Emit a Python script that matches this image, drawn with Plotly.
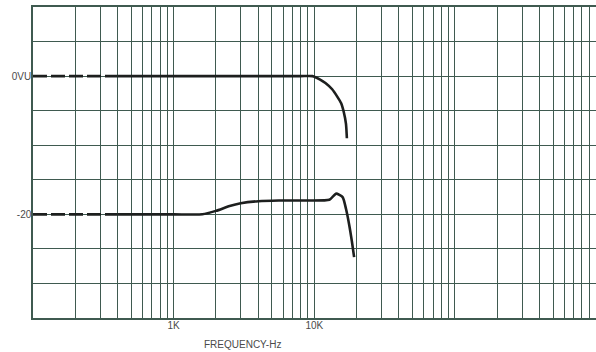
import plotly.graph_objects as go

# ---- data ----
top_freq_hz = [100, 200, 400, 1000, 3000, 8000, 9700, 11000, 12000, 13400, 14600, 15500, 16200, 16800, 17050]
top_level_db = [0, 0, 0, 0, 0, 0, 0, -0.5, -1.0, -1.9, -3.0, -3.9, -5.2, -6.9, -9.0]

low_freq_hz = [100, 200, 400, 1000, 1600, 2000, 2500, 3000, 4000, 5600, 8000, 12800, 13600, 14300, 15900, 16800, 17700, 18500, 19200]
low_level_db = [-20, -20, -20, -20, -20, -19.5, -18.8, -18.4, -18.1, -18.0, -18.0, -17.9, -17.4, -17.0, -17.5, -19.2, -21.5, -23.9, -26.2]

dashed_points = 3  # first points (100-400 Hz) drawn dashed in the original

x_grid_hz = [m * 10 ** e for e in range(2, 6) for m in range(1, 10)] + [1000000]
x_tick_labels = {1000: "1K", 10000: "10K"}
y_grid_db = list(range(-35, 11, 5))
y_tick_labels = {0: "0VU", -20: "-20"}

GRID = "#3f5a50"
INK = "#1d1f1e"
TXT = "#4a4a4a"
FONT = "Liberation Sans, Arial, sans-serif"

fig = go.Figure()
for fx, fy in [(top_freq_hz, top_level_db), (low_freq_hz, low_level_db)]:
    fig.add_trace(go.Scatter(x=fx[:dashed_points], y=fy[:dashed_points], mode="lines",
                             line=dict(color=INK, width=2.6, dash="14px,4px"),
                             showlegend=False, hoverinfo="skip"))
    fig.add_trace(go.Scatter(x=fx[dashed_points - 1:], y=fy[dashed_points - 1:], mode="lines",
                             line=dict(color=INK, width=2.6, shape="spline", smoothing=0.6),
                             showlegend=False, hoverinfo="skip"))

fig.update_layout(
    width=596, height=352,
    margin=dict(l=33, r=0, t=7, b=34),
    paper_bgcolor="white", plot_bgcolor="white",
    font=dict(family=FONT, size=10, color=TXT),
    xaxis=dict(type="log", range=[2, 6.003], tickmode="array", automargin=False,
               tickvals=x_grid_hz,
               ticktext=[x_tick_labels.get(v, "") for v in x_grid_hz],
               showgrid=True, gridcolor=GRID, gridwidth=1.3,
               showline=True, linecolor=GRID, linewidth=1.5, mirror=True,
               ticks="", ticklabelstandoff=-3, zeroline=False, tickfont=dict(size=10, color=TXT)),
    yaxis=dict(range=[-35, 10], tickmode="array", automargin=False,
               tickvals=y_grid_db,
               ticktext=[y_tick_labels.get(v, "") for v in y_grid_db],
               showgrid=True, gridcolor=GRID, gridwidth=1.3,
               showline=True, linecolor=GRID, linewidth=1.5, mirror=False,
               ticks="", ticklabelstandoff=-2, zeroline=False, tickfont=dict(size=10, color=TXT)),
    annotations=[dict(text="FREQUENCY-Hz", xref="paper", yref="paper",
                      x=0.373, y=0, yshift=-26, xanchor="center", yanchor="middle",
                      showarrow=False, font=dict(size=10, color=TXT, family=FONT))],
)

fig.write_html("out.html", config={"displayModeBar": False},
               post_script="document.body.style.margin='0';document.body.style.overflow='hidden';")
